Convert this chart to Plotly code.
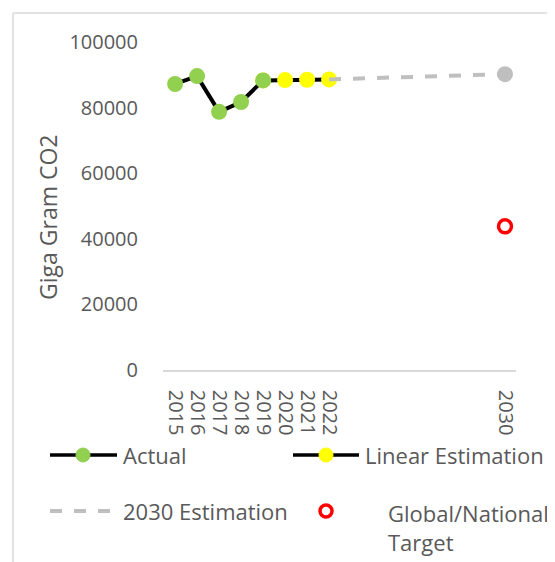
import plotly.graph_objects as go

# ---- data ----
actual_years = [2015, 2016, 2017, 2018, 2019]
actual_vals = [87200, 89600, 78700, 81700, 88300]
linear_years = [2019, 2020, 2021, 2022]
linear_vals = [88300, 88400, 88500, 88600]
est_years = [2022, 2030]
est_vals = [88600, 90200]
target_years = [2030]
target_vals = [43800]
tick_years = [2015, 2016, 2017, 2018, 2019, 2020, 2021, 2022, 2030]
y_ticks = [0, 20000, 40000, 60000, 80000, 100000]

OFF = 8                      # page body margin in the browser
W, H = 555 - OFF, 562 - OFF
L, R, T, B = 163 - OFF, 516 - OFF, 42 - OFF, 370 - OFF   # plot area in figure pixels
FONT = "Open Sans"
FS = 20
LFS = 22
TXT = "#595959"

def px(x):
    return (x - OFF - L) / (R - L)

def py(y):
    return (B - (y - OFF)) / (B - T)

fig = go.Figure()
fig.add_trace(go.Scatter(x=linear_years, y=linear_vals, mode="lines+markers",
                         line=dict(color="black", width=4),
                         marker=dict(color="#FFFF00", size=16), showlegend=False))
fig.add_trace(go.Scatter(x=actual_years, y=actual_vals, mode="lines+markers",
                         line=dict(color="black", width=4),
                         marker=dict(color="#92D050", size=16), showlegend=False))
fig.add_trace(go.Scatter(x=est_years, y=est_vals, mode="lines",
                         line=dict(color="#BFBFBF", width=4, dash="dash"), showlegend=False))
fig.add_trace(go.Scatter(x=est_years[1:], y=est_vals[1:], mode="markers",
                         marker=dict(color="#BFBFBF", size=16), showlegend=False))
fig.add_trace(go.Scatter(x=target_years, y=target_vals, mode="markers",
                         marker=dict(color="rgba(0,0,0,0)", size=13,
                                     line=dict(color="#FF0000", width=3.5)),
                         showlegend=False))

shapes = [
    # chart frame (left and top)
    dict(type="line", xref="paper", yref="paper", x0=px(13), x1=px(13), y0=py(13), y1=py(570),
         line=dict(color="#D9D9D9", width=1.5)),
    dict(type="line", xref="paper", yref="paper", x0=px(13), x1=px(570), y0=py(13), y1=py(13),
         line=dict(color="#D9D9D9", width=1.5)),
    # legend glyphs
    dict(type="line", xref="paper", yref="paper", x0=px(50), x1=px(117), y0=py(455), y1=py(455),
         line=dict(color="black", width=3.5)),
    dict(type="circle", xref="paper", yref="paper", xsizemode="pixel", ysizemode="pixel",
         xanchor=px(83), yanchor=py(455), x0=-7, x1=7, y0=-7, y1=7,
         fillcolor="#92D050", line=dict(color="#92D050", width=1)),
    dict(type="line", xref="paper", yref="paper", x0=px(293), x1=px(359), y0=py(455), y1=py(455),
         line=dict(color="black", width=3.5)),
    dict(type="circle", xref="paper", yref="paper", xsizemode="pixel", ysizemode="pixel",
         xanchor=px(326), yanchor=py(455), x0=-7, x1=7, y0=-7, y1=7,
         fillcolor="#FFFF00", line=dict(color="#FFFF00", width=1)),
    dict(type="line", xref="paper", yref="paper", x0=px(50), x1=px(117), y0=py(511), y1=py(511),
         line=dict(color="#BFBFBF", width=4, dash="dash")),
    dict(type="circle", xref="paper", yref="paper", xsizemode="pixel", ysizemode="pixel",
         xanchor=px(326), yanchor=py(511), x0=-6, x1=6, y0=-6, y1=6,
         fillcolor="rgba(0,0,0,0)", line=dict(color="#FF0000", width=3.5)),
]

annotations = [
    dict(text="Giga Gram CO2", x=px(48), y=py(218), xref="paper", yref="paper",
         xanchor="center", yanchor="middle", textangle=-90, showarrow=False,
         font=dict(size=23, color=TXT)),
    dict(text="Actual", x=px(121), y=py(455), xref="paper", yref="paper",
         xanchor="left", yanchor="middle", showarrow=False),
    dict(text="Linear Estimation", x=px(363), y=py(455), xref="paper", yref="paper",
         xanchor="left", yanchor="middle", showarrow=False),
    dict(text="2030 Estimation", x=px(121), y=py(511), xref="paper", yref="paper",
         xanchor="left", yanchor="middle", showarrow=False),
    dict(text="Global/National<br>Target", x=px(386), y=py(496), xref="paper", yref="paper",
         xanchor="left", yanchor="top", align="left", showarrow=False),
]

fig.update_layout(
    width=W, height=H,
    margin=dict(l=L, r=W - R, t=T, b=H - B, pad=0),
    paper_bgcolor="white", plot_bgcolor="white",
    font=dict(family=FONT, size=LFS, color=TXT),
    showlegend=False,
    shapes=shapes,
    annotations=annotations,
    xaxis=dict(range=[2014.45, 2030.5], tickmode="array", tickvals=tick_years,
               ticktext=[str(t) for t in tick_years], tickangle=90,
               showgrid=False, zeroline=False, showline=True, linecolor="#D9D9D9",
               linewidth=1.5, ticks="", ticklabelstandoff=14,
               tickfont=dict(size=FS, color=TXT)),
    yaxis=dict(range=[0, 100000], tickmode="array", tickvals=y_ticks,
               ticktext=[str(t) for t in y_ticks],
               showgrid=False, zeroline=False, showline=False, ticks="",
               ticklabelstandoff=24,
               tickfont=dict(size=FS, color=TXT)),
)

fig.write_html("out.html")
